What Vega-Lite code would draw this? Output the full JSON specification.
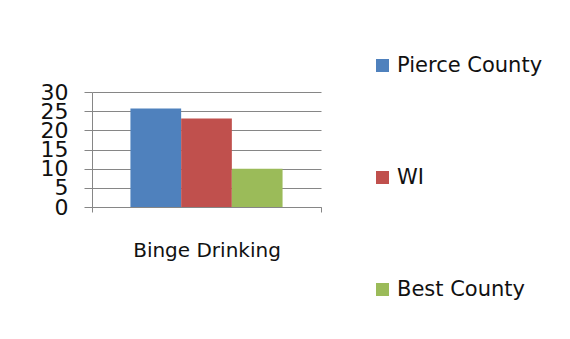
{
  "$schema": "https://vega.github.io/schema/vega-lite/v6.json",
  "width": 229,
  "height": 115,
  "autosize": "none",
  "padding": {"left": 92, "top": 92, "right": 249, "bottom": 132},
  "background": "white",
  "data": {
    "values": [
      {"measure": "Binge Drinking", "series": "Pierce County", "value": 25.7},
      {"measure": "Binge Drinking", "series": "WI", "value": 23.1},
      {"measure": "Binge Drinking", "series": "Best County", "value": 10}
    ]
  },
  "mark": {"type": "bar"},
  "encoding": {
    "x": {
      "field": "measure",
      "type": "nominal",
      "scale": {"paddingInner": 0, "paddingOuter": 0},
      "axis": {
        "title": null,
        "labelAngle": 0,
        "labelFont": "DejaVu Sans",
        "labelFontSize": 20,
        "labelColor": "#111111",
        "labelPadding": 28,
        "tickBand": "extent",
        "tickSize": 5,
        "tickColor": "#868686",
        "domainColor": "#868686",
        "grid": false
      }
    },
    "xOffset": {
      "field": "series",
      "type": "nominal",
      "sort": ["Pierce County", "WI", "Best County"],
      "scale": {"paddingInner": 0, "paddingOuter": 0.758}
    },
    "y": {
      "field": "value",
      "type": "quantitative",
      "scale": {"domain": [0, 30], "nice": false},
      "axis": {
        "title": null,
        "values": [0, 5, 10, 15, 20, 25, 30],
        "labelFont": "DejaVu Sans",
        "labelFontSize": 22,
        "labelColor": "#111111",
        "labelPadding": 16,
        "labelOverlap": false,
        "labelFlush": false,
        "tickSize": 8,
        "tickColor": "#868686",
        "domainColor": "#868686",
        "gridColor": "#868686",
        "grid": true
      }
    },
    "color": {
      "field": "series",
      "type": "nominal",
      "scale": {
        "domain": ["Pierce County", "WI", "Best County"],
        "range": ["#4F81BD", "#C0504D", "#9BBB59"]
      },
      "legend": {
        "title": null,
        "orient": "none",
        "legendX": 280,
        "legendY": -37,
        "padding": 0,
        "symbolType": "square",
        "symbolSize": 169,
        "symbolStrokeWidth": 0,
        "labelFont": "DejaVu Sans",
        "labelFontSize": 21,
        "labelColor": "#111111",
        "labelOffset": 4,
        "labelLimit": 300,
        "rowPadding": 90
      }
    }
  },
  "config": {
    "view": {"stroke": null},
    "axis": {"gridWidth": 1, "domainWidth": 1, "tickWidth": 1}
  }
}
